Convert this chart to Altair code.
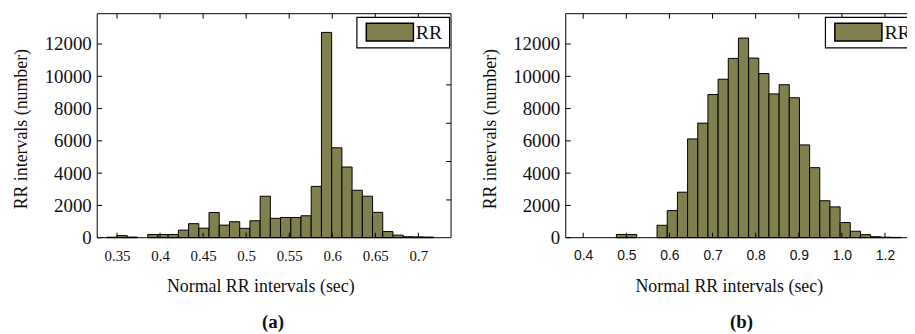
import altair as alt
import pandas as pd

# ---------------- data ----------------
# Panel (a): histogram bin centres (sec) and counts
A_CENTERS = [0.3442, 0.3560, 0.3679, 0.3798, 0.3916, 0.4035, 0.4154, 0.4272,
             0.4391, 0.4510, 0.4628, 0.4747, 0.4866, 0.4984, 0.5103, 0.5222,
             0.5340, 0.5459, 0.5578, 0.5696, 0.5815, 0.5934, 0.6053, 0.6171,
             0.6290, 0.6409, 0.6527, 0.6646, 0.6765, 0.6883, 0.7002, 0.7121]
A_COUNTS = [30, 130, 40, 0, 200, 200, 200, 470,
            870, 590, 1560, 780, 990, 580, 1050, 2570,
            1200, 1250, 1250, 1360, 3180, 12720, 5570, 4380,
            2940, 2570, 1570, 380, 160, 60, 50, 40]
A_BIN_WIDTH = 0.011866

# Panel (b)
B_CENTERS = [0.4888, 0.5124, 0.5360, 0.5596, 0.5831, 0.6067, 0.6303, 0.6539,
             0.6775, 0.7011, 0.7247, 0.7483, 0.7718, 0.7954, 0.8190, 0.8426,
             0.8662, 0.8898, 0.9134, 0.9369, 0.9605, 0.9841, 1.0077, 1.0313,
             1.0549, 1.0785, 1.1021, 1.1257]
B_COUNTS = [200, 200, 0, 0, 770, 1680, 2820, 6120,
            7100, 8870, 9820, 11110, 12370, 11130, 10170, 8910,
            9480, 8670, 5750, 4340, 2290, 1910, 940, 400,
            190, 60, 30, 20]
B_BIN_WIDTH = 0.023586

A_XTICKS = [0.35, 0.4, 0.45, 0.5, 0.55, 0.6, 0.65, 0.7]
B_XTICKS = [0.4, 0.5, 0.6, 0.7, 0.8, 0.9, 1.0, 1.1]
Y_TICKS = [0, 2000, 4000, 6000, 8000, 10000, 12000]
A_RIGHT_TICKS = [2340, 4720, 7090, 9470]
LEGEND_LABEL = ["RR"]
X_TITLE = "Normal RR intervals (sec)"
Y_TITLE = "RR intervals (number)"

# ---------------- style / layout ----------------
TOTAL_W = 817          # plot region (both panels) in px
H = 226
PW = 357               # width of one panel
B_OFF = 472.7          # left edge of panel (b) relative to panel (a)
OLIVE = "#807f4e"
SERIF = "Liberation Serif"
SANS = "Liberation Sans"
TICK = 5

YSCALE = alt.Scale(domain=[0, 13880], nice=False, zero=True)


def panel(centers, counts, binw, xdomain, x0px, xticks, xfont, xsize,
          label_expr, right_ticks, caption, frame_right):
    xscale = alt.Scale(domain=xdomain, range=[x0px, x0px + PW], nice=False,
                       zero=False)
    df = pd.DataFrame({"center": centers, "count": counts})

    xaxis = alt.Axis(orient="bottom", values=xticks, labelExpr=label_expr,
                     labelFont=xfont, labelFontSize=xsize, labelColor="#111",
                     labelPadding=11, labelFlush=False, labelOverlap=False,
                     ticks=False, tickSize=0, domain=False, grid=False,
                     title=X_TITLE, titleFont=SERIF, titleFontSize=18,
                     titleFontWeight="normal", titleColor="#111",
                     titleX=x0px + 164.5, titleY=49, titleBaseline="middle",
                     titleAlign="center")
    yaxis = alt.Axis(orient="left", values=Y_TICKS, format="d",
                     labelFont=SERIF, labelFontSize=19, labelColor="#111",
                     labelPadding=6, labelFlush=False, labelOverlap=False,
                     ticks=False, tickSize=0, domain=False, grid=False,
                     offset=-x0px,
                     title=Y_TITLE, titleFont=SERIF, titleFontSize=18,
                     titleFontWeight="normal", titleColor="#111",
                     titleAngle=-90, titleX=-76, titleY=116,
                     titleBaseline="middle", titleAlign="center")

    bars = alt.Chart(df).transform_filter("datum.count > 0").transform_calculate(
        x0=f"datum.center - {binw / 2}", x1=f"datum.center + {binw / 2}"
    ).mark_rect(fill=OLIVE, stroke="black", strokeWidth=1).encode(
        x=alt.X("x0:Q", scale=xscale, axis=xaxis),
        x2="x1:Q",
        y=alt.Y("count:Q", scale=YSCALE, axis=yaxis),
        y2=alt.datum(0),
    )

    xt = pd.DataFrame({"v": xticks})
    yt = pd.DataFrame({"v": Y_TICKS})
    bottom_t = alt.Chart(xt).mark_rule(color="black", strokeWidth=1).encode(
        x=alt.X("v:Q", scale=xscale, axis=None),
        y=alt.value(H), y2=alt.value(H - TICK))
    top_t = alt.Chart(xt).mark_rule(color="black", strokeWidth=1).encode(
        x=alt.X("v:Q", scale=xscale, axis=None),
        y=alt.value(0), y2=alt.value(TICK))
    left_t = alt.Chart(yt).mark_rule(color="black", strokeWidth=1).encode(
        y=alt.Y("v:Q", scale=YSCALE, axis=None),
        x=alt.value(x0px), x2=alt.value(x0px + TICK))
    layers = [bars, bottom_t, top_t, left_t]
    if right_ticks:
        rt = pd.DataFrame({"v": right_ticks})
        layers.append(alt.Chart(rt).mark_rule(color="black", strokeWidth=1).encode(
            y=alt.Y("v:Q", scale=YSCALE, axis=None),
            x=alt.value(x0px + PW - TICK), x2=alt.value(x0px + PW)))

    leg = pd.DataFrame({"label": LEGEND_LABEL})
    frame = alt.Chart(leg).mark_rect(fill=None, stroke="black", strokeWidth=1).encode(
        x=alt.value(x0px), x2=alt.value(frame_right), y=alt.value(0), y2=alt.value(H))
    box = alt.Chart(leg).mark_rect(fill="white", stroke="black", strokeWidth=1.2).encode(
        x=alt.value(x0px + 262), x2=alt.value(x0px + 355.5),
        y=alt.value(3.7), y2=alt.value(34.4))
    swatch = alt.Chart(leg).mark_rect(fill=OLIVE, stroke="black", strokeWidth=1.5).encode(
        x=alt.value(x0px + 271.5), x2=alt.value(x0px + 319),
        y=alt.value(9.6), y2=alt.value(27.6))
    ltext = alt.Chart(leg).mark_text(font=SERIF, fontSize=20, align="left",
                                     baseline="middle", color="#111").encode(
        x=alt.value(x0px + 321.5), y=alt.value(19.5), text="label:N")
    cap = alt.Chart(pd.DataFrame({"c": [caption]})).mark_text(
        font=SERIF, fontSize=19, fontWeight="bold", align="center",
        baseline="middle", color="#111").encode(
        x=alt.value(x0px + 177.3), y=alt.value(311), text="c:N")
    layers += [frame, box, swatch, ltext, cap]
    return layers


layers_a = panel(A_CENTERS, A_COUNTS, A_BIN_WIDTH, [0.327, 0.738], 0, A_XTICKS,
                 SERIF, 15, "'' + datum.value", A_RIGHT_TICKS, "(a)", PW)
layers_b = panel(B_CENTERS, B_COUNTS, B_BIN_WIDTH, [0.3595, 1.1802], B_OFF,
                 B_XTICKS, SANS, 14,
                 "datum.value > 1.05 ? '1.2' : format(datum.value, '.1f')",
                 None, "(b)", B_OFF + PW + 40)

chart = alt.layer(*layers_a, *layers_b).resolve_scale(
    x="independent"
).resolve_axis(
    x="independent", y="independent"
).properties(
    width=TOTAL_W, height=H,
    autosize=alt.AutoSizeParams(type="none"),
    padding={"left": 90, "top": 4.3, "right": 0, "bottom": 95},
    background="white",
).configure_view(stroke=None)

chart.save("out.html", embed_options={"renderer": "svg", "actions": False})
